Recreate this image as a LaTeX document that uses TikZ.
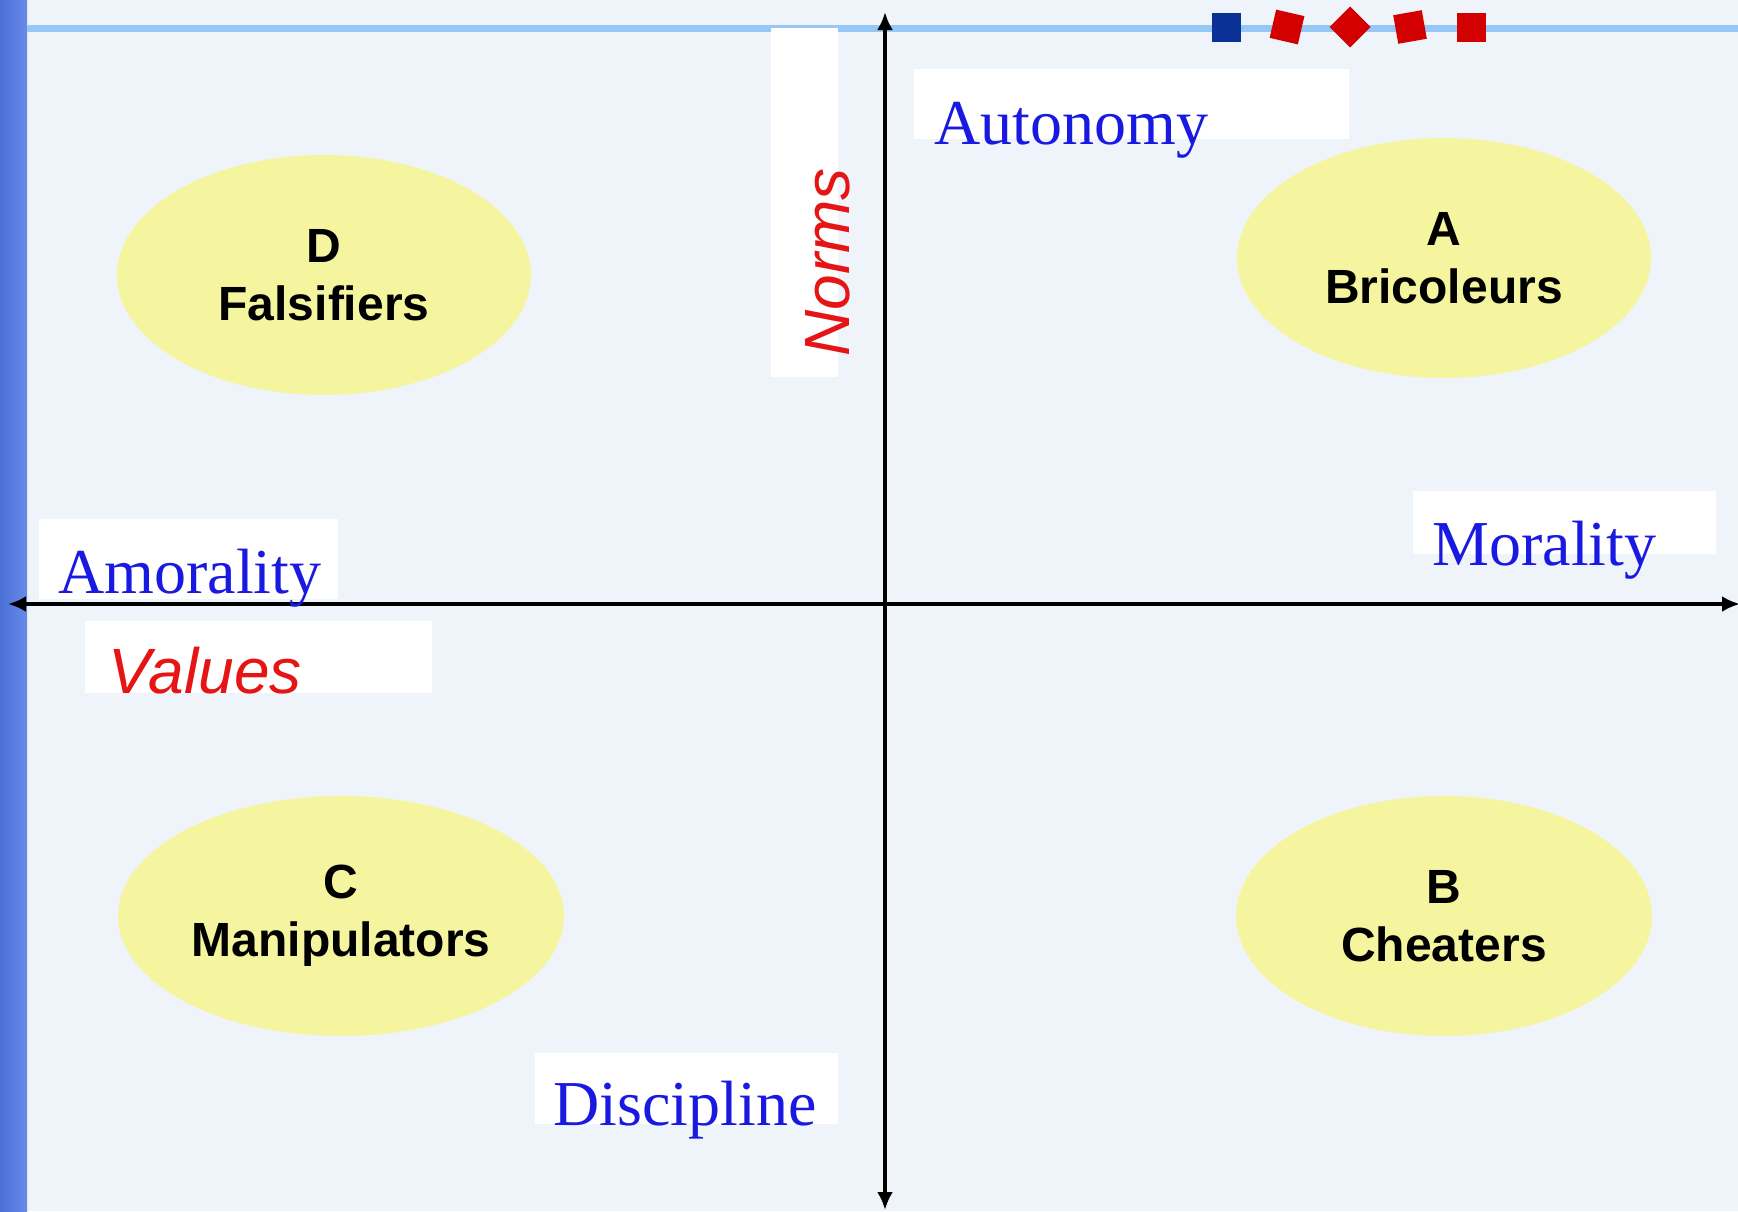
\documentclass[tikz,border=0pt]{standalone}
\usepackage{fontspec}
\setmainfont{Liberation Serif}
\setsansfont{Liberation Sans}
\usetikzlibrary{shapes.geometric,arrows.meta}

\definecolor{pagebg}{RGB}{238,244,250}
\definecolor{barblue}{RGB}{78,118,228}
\definecolor{rulblue}{RGB}{150,200,245}
\definecolor{ellyellow}{RGB}{245,245,160}
\definecolor{lblblue}{RGB}{25,25,225}
\definecolor{lblred}{RGB}{230,20,20}
\definecolor{markred}{RGB}{210,0,0}
\definecolor{markblue}{RGB}{10,50,150}

\tikzset{
  quad/.style={ellipse,fill=ellyellow,inner sep=0pt,align=center,
    font=\sffamily\bfseries\fontsize{24}{29}\selectfont},
  axislbl/.style={anchor=base west,text=lblblue,inner sep=0pt,
    font=\rmfamily\fontsize{32}{36}\selectfont},
  redlbl/.style={anchor=base west,text=lblred,inner sep=0pt,
    font=\sffamily\itshape\fontsize{32}{36}\selectfont},
  markbox/.style={rectangle,minimum size=14.5pt,inner sep=0pt}
}

\begin{document}
\begin{tikzpicture}[x=0.5pt,y=-0.5pt]
   \useasboundingbox (0,0) rectangle (1738,1211);
   \fill[pagebg] (0,0) rectangle (1738,1211);
   \shade[left color=barblue!95!black,right color=barblue!85!white] (0,0) rectangle (27,1211);
   \draw[rulblue,line width=3.5pt] (27,28) -- (1738,28);
   % white boxes behind the labels
   \fill[white] (914,69) rectangle (1349,139);
   \fill[white] (771,28) rectangle (838,377);
   \fill[white] (1413,491) rectangle (1716,554);
   \fill[white] (39,519) rectangle (338,599);
   \fill[white] (85,621) rectangle (432,693);
   \fill[white] (535,1053) rectangle (838,1124);
   % quadrants
   \begin{scope}[every node/.style={quad}]
    \node[minimum width=207pt,minimum height=120pt] (qa) at (1444,258) {A\\Bricoleurs};
    \node[minimum width=208pt,minimum height=120pt] (qb) at (1444,916) {B\\Cheaters};
    \node[minimum width=223pt,minimum height=120pt] (qc) at (341,916) {C\\Manipulators};
    \node[minimum width=207pt,minimum height=120pt] (qd) at (324,275) {D\\Falsifiers};
   \end{scope}
   % axes
   \coordinate (top) at (885,12);
   \coordinate (bot) at (885,1210);
   \coordinate (lft) at (8,604);
   \coordinate (rgt) at (1740,604);
   \begin{scope}[line width=2.4pt,{Latex[length=9pt,width=8pt]}-{Latex[length=9pt,width=8pt]}]
    \draw (bot) -- (top);
    \draw (lft) -- (rgt);
   \end{scope}
   % marks on the top rule
   \begin{scope}[every node/.style={markbox}]
    \node[fill=markblue] (m1) at (1226,27) {};
    \node[fill=markred,rotate=-13] (m2) at (1287,27) {};
    \node[fill=markred,rotate=45] (m3) at (1350,27) {};
    \node[fill=markred,rotate=10] (m4) at (1410,27) {};
    \node[fill=markred] (m5) at (1471,27) {};
   \end{scope}
   % labels
   \node[axislbl] (autonomy) at (934,144) {Autonomy};
   \node[axislbl] (morality) at (1432,565) {Morality};
   \node[axislbl] (amorality) at (58,593) {Amorality};
   \node[axislbl] (discipline) at (553,1125) {Discipline};
   \node[redlbl] (values) at (108,693) {Values};
   \node[redlbl,rotate=90] (norms) at (849,357) {Norms};
\end{tikzpicture}
\end{document}
